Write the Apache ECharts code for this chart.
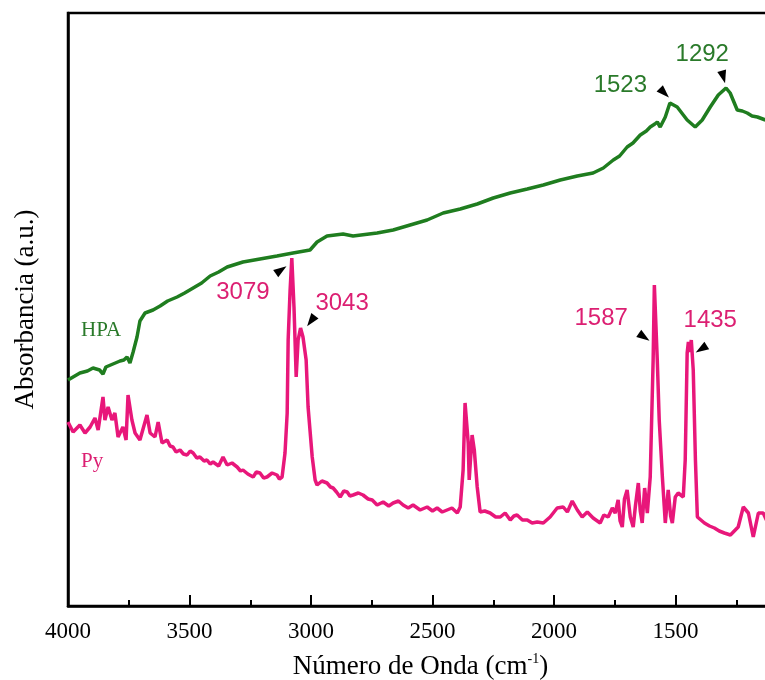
<!DOCTYPE html>
<html>
<head>
<meta charset="utf-8">
<script src="https://cdn.jsdelivr.net/npm/echarts@6/dist/echarts.min.js"></script>
<style>
  html, body { margin: 0; padding: 0; background: #fff; overflow: hidden; width: 765px; height: 680px; }
  #chart { width: 800px; height: 680px; }
</style>
</head>
<body>
<div id="chart"></div>
<script>
// FTIR spectra: HPA and adsorbed pyridine (Py)
const hpaWavenumber = [4000,3951,3920,3897,3870,3856,3844,3815,3786,3770,3757,3745,3732,3716,3704,3683,3650,3621,3590,3551,3520,3485,3450,3415,3380,3345,3280,3210,3140,3074,3004,2975,2934,2868,2827,2728,2662,2592,2522,2456,2386,2316,2250,2180,2110,2044,1974,1904,1839,1797,1756,1730,1699,1675,1645,1620,1604,1585,1575,1563,1542,1523,1493,1452,1419,1390,1357,1324,1292,1275,1246,1225,1205,1185,1163,1130];
const hpaAbsorbance = [0.452,0.466,0.470,0.476,0.472,0.464,0.478,0.484,0.490,0.492,0.498,0.486,0.508,0.538,0.570,0.586,0.592,0.600,0.610,0.618,0.626,0.636,0.646,0.660,0.668,0.678,0.688,0.694,0.700,0.706,0.712,0.728,0.740,0.744,0.740,0.746,0.752,0.762,0.772,0.786,0.794,0.804,0.816,0.826,0.834,0.842,0.852,0.860,0.866,0.876,0.892,0.900,0.918,0.926,0.942,0.950,0.958,0.964,0.968,0.958,0.978,1.006,0.998,0.972,0.958,0.972,0.998,1.022,1.036,1.026,0.992,0.990,0.986,0.980,0.978,0.972];

const pyWavenumber = [4000,3979,3951,3930,3909,3889,3876,3856,3848,3835,3819,3807,3794,3774,3761,3753,3737,3724,3704,3675,3662,3642,3629,3613,3592,3580,3568,3555,3539,3525,3510,3497,3485,3470,3457,3440,3428,3415,3403,3380,3362,3345,3325,3304,3290,3280,3260,3238,3225,3210,3195,3181,3160,3140,3130,3119,3107,3098,3094,3086,3079,3070,3061,3053,3043,3033,3020,3012,2995,2983,2975,2955,2934,2920,2909,2895,2880,2865,2851,2840,2827,2805,2786,2765,2748,2728,2703,2680,2662,2640,2621,2600,2580,2551,2522,2500,2481,2460,2440,2420,2398,2386,2374,2366,2353,2349,2337,2328,2316,2304,2285,2263,2240,2221,2201,2180,2165,2152,2130,2110,2090,2069,2044,2016,1987,1962,1945,1925,1904,1884,1863,1839,1810,1795,1777,1760,1748,1736,1728,1719,1710,1699,1686,1674,1665,1653,1645,1637,1627,1616,1604,1592,1587,1575,1567,1554,1542,1530,1520,1513,1501,1489,1468,1460,1452,1447,1441,1435,1427,1418,1410,1381,1360,1340,1320,1299,1274,1242,1221,1200,1180,1159,1139,1126];
const pyAbsorbance = [0.368,0.348,0.362,0.346,0.358,0.376,0.352,0.418,0.372,0.398,0.372,0.386,0.338,0.358,0.332,0.422,0.372,0.346,0.332,0.382,0.346,0.338,0.368,0.326,0.332,0.320,0.318,0.308,0.312,0.304,0.302,0.310,0.306,0.296,0.298,0.290,0.292,0.284,0.288,0.280,0.298,0.282,0.286,0.278,0.270,0.272,0.264,0.258,0.268,0.266,0.256,0.258,0.266,0.262,0.254,0.258,0.306,0.386,0.532,0.632,0.696,0.598,0.458,0.532,0.556,0.538,0.492,0.398,0.298,0.252,0.242,0.250,0.246,0.238,0.236,0.228,0.218,0.230,0.228,0.220,0.222,0.226,0.222,0.214,0.212,0.202,0.208,0.200,0.206,0.210,0.202,0.196,0.202,0.192,0.198,0.190,0.196,0.188,0.192,0.196,0.186,0.198,0.272,0.406,0.326,0.252,0.342,0.312,0.238,0.188,0.190,0.186,0.178,0.178,0.186,0.172,0.180,0.182,0.172,0.172,0.166,0.168,0.166,0.178,0.196,0.198,0.188,0.210,0.192,0.178,0.188,0.176,0.166,0.182,0.178,0.196,0.186,0.212,0.170,0.158,0.214,0.232,0.178,0.158,0.200,0.246,0.190,0.166,0.236,0.186,0.258,0.492,0.642,0.492,0.372,0.258,0.166,0.232,0.180,0.166,0.218,0.226,0.218,0.292,0.506,0.528,0.508,0.532,0.472,0.292,0.178,0.166,0.160,0.156,0.150,0.146,0.142,0.158,0.198,0.186,0.138,0.186,0.186,0.172];

const hpaPeaks = ['1523', '1292'];
const pyPeaks = ['3079', '3043', '1587', '1435'];
const seriesNames = ['HPA', 'Py'];

const GREEN = '#1f7d1f';
const PINK = '#e8177a';
const SERIF = 'Liberation Serif, Times New Roman, serif';
const SANS = 'Liberation Sans, Arial, sans-serif';

// where each peak note sits: arrow centre, arrow heading, text centre
const notePlacement = {
  '1523': { arrow: [1546, 1.026], rot: -135, text: [1727, 1.042] },
  '1292': { arrow: [1303, 1.058], rot: -165, text: [1390, 1.104] },
  '3079': { arrow: [3123, 0.672], rot: -56,  text: [3280, 0.628] },
  '3043': { arrow: [3000, 0.570], rot: 143,  text: [2872, 0.606] },
  '1587': { arrow: [1629, 0.538], rot: -124, text: [1806, 0.576] },
  '1435': { arrow: [1394, 0.514], rot: 122,  text: [1357, 0.572] }
};
const namePlacement = { HPA: [3864, 0.552], Py: [3901, 0.290] };

function zip(xs, ys) { return xs.map((x, i) => [x, ys[i]]); }

function noteMarks(peaks, color, seriesName) {
  const marks = [];
  peaks.forEach(p => {
    const n = notePlacement[p];
    marks.push({
      coord: n.arrow, symbol: 'triangle', symbolSize: [9, 13], symbolRotate: n.rot,
      itemStyle: { color: '#000' }, label: { show: false }
    });
    marks.push({
      coord: n.text, symbol: 'circle', symbolSize: 0,
      label: { show: true, position: 'inside', formatter: p, color: color,
               fontFamily: SANS, fontSize: 24 }
    });
  });
  marks.push({
    coord: namePlacement[seriesName], symbol: 'circle', symbolSize: 0,
    label: { show: true, position: 'inside', formatter: seriesName, color: color,
             fontFamily: SERIF, fontSize: 21 }
  });
  return marks;
}

const chart = echarts.init(document.getElementById('chart'), null, { renderer: 'canvas' });

chart.setOption({
  animation: false,
  backgroundColor: '#fff',
  grid: {
    left: 68, top: 13, right: 3, bottom: 74,
    show: true, borderColor: '#000', borderWidth: 2.5,
    outerBoundsMode: 'none', containLabel: false
  },
  xAxis: {
    type: 'value', inverse: true, min: 1000, max: 4000, interval: 500,
    axisLine: { show: true, lineStyle: { color: '#000', width: 2.5 } },
    axisTick: { show: true, inside: true, length: 11, lineStyle: { color: '#000', width: 2 } },
    minorTick: { show: true, splitNumber: 2, length: 6, lineStyle: { color: '#000', width: 2 } },
    splitLine: { show: false },
    minorSplitLine: { show: false },
    axisLabel: {
      showMinLabel: false, color: '#000', margin: 14,
      fontFamily: SERIF, fontSize: 23,
      formatter: v => String(v)
    },
    name: 'Número de Onda (cm{sup|-1})',
    nameLocation: 'middle', nameGap: 46,
    nameTextStyle: {
      color: '#000', fontFamily: SERIF, fontSize: 27,
      lineHeight: 30, padding: [0, 24, 0, 0],
      rich: { sup: { fontSize: 14, lineHeight: 14, verticalAlign: 'top',
                     fontFamily: SERIF, color: '#000' } }
    }
  },
  yAxis: {
    type: 'value', min: 0, max: 1.186,
    axisLine: { show: true, lineStyle: { color: '#000', width: 2.5 } },
    axisTick: { show: false },
    axisLabel: { show: false },
    splitLine: { show: false },
    name: 'Absorbancia (a.u.)',
    nameLocation: 'middle', nameGap: 29,
    nameTextStyle: { color: '#000', fontFamily: SERIF, fontSize: 27 }
  },
  series: [
    {
      name: seriesNames[0], type: 'line', data: zip(hpaWavenumber, hpaAbsorbance),
      showSymbol: false, symbol: 'none', sampling: null,
      lineStyle: { color: GREEN, width: 3.5 },
      itemStyle: { color: GREEN },
      markPoint: { silent: true, data: noteMarks(hpaPeaks, '#2a7a2a', seriesNames[0]) }
    },
    {
      name: seriesNames[1], type: 'line', data: zip(pyWavenumber, pyAbsorbance),
      showSymbol: false, symbol: 'none', sampling: null,
      lineStyle: { color: PINK, width: 3.5 },
      itemStyle: { color: PINK },
      markPoint: { silent: true, data: noteMarks(pyPeaks, '#dc1f72', seriesNames[1]) }
    }
  ]
});
</script>
</body>
</html>
